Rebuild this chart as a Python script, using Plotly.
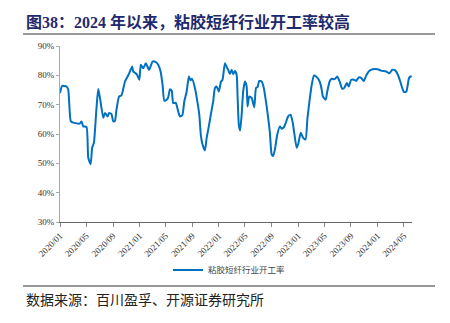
import plotly.graph_objects as go

dates = [
    "2020-01-01", "2020-01-11", "2020-01-31", "2020-02-08", "2020-02-20", "2020-03-06",
    "2020-04-02", "2020-04-09", "2020-04-17", "2020-05-02", "2020-05-10", "2020-05-21",
    "2020-05-28", "2020-06-05", "2020-06-17", "2020-06-25", "2020-07-03", "2020-07-18",
    "2020-07-26", "2020-08-07", "2020-08-14", "2020-08-25", "2020-09-02", "2020-09-10",
    "2020-09-17", "2020-09-29", "2020-10-10", "2020-10-26", "2020-11-13", "2020-11-28",
    "2020-12-03", "2020-12-19", "2020-12-31", "2021-01-07", "2021-01-18", "2021-01-30",
    "2021-02-14", "2021-03-02", "2021-03-17", "2021-03-28", "2021-04-08", "2021-04-17",
    "2021-04-25", "2021-05-06", "2021-05-13", "2021-05-21", "2021-05-29", "2021-06-05",
    "2021-06-17", "2021-06-28", "2021-07-06", "2021-07-17", "2021-07-26", "2021-08-06",
    "2021-08-16", "2021-08-24", "2021-08-31", "2021-09-13", "2021-09-21", "2021-10-03",
    "2021-10-10", "2021-10-18", "2021-10-29", "2021-11-06", "2021-11-16", "2021-11-25",
    "2021-12-06", "2021-12-14", "2021-12-22", "2022-01-01", "2022-01-11", "2022-01-18",
    "2022-01-29", "2022-02-08", "2022-02-12", "2022-02-21", "2022-03-01", "2022-03-08",
    "2022-03-16", "2022-03-24", "2022-03-28", "2022-04-03", "2022-04-09", "2022-04-16",
    "2022-04-23", "2022-05-01", "2022-05-09", "2022-05-13", "2022-05-21", "2022-06-01",
    "2022-06-13", "2022-06-21", "2022-06-28", "2022-07-06", "2022-07-17", "2022-07-27",
    "2022-08-08", "2022-08-16", "2022-08-24", "2022-09-01", "2022-09-08", "2022-09-16",
    "2022-09-27", "2022-10-09", "2022-10-17", "2022-10-27", "2022-11-05", "2022-11-16",
    "2022-11-27", "2022-12-06", "2022-12-14", "2022-12-25", "2023-01-01", "2023-01-13",
    "2023-01-24", "2023-02-04", "2023-02-13", "2023-02-24", "2023-03-06", "2023-03-15",
    "2023-03-29", "2023-04-10", "2023-04-18", "2023-04-25", "2023-05-08", "2023-05-15",
    "2023-05-26", "2023-06-03", "2023-06-18", "2023-06-30", "2023-07-11", "2023-07-23",
    "2023-08-03", "2023-08-13", "2023-08-22", "2023-09-02", "2023-09-14", "2023-09-25",
    "2023-10-07", "2023-10-18", "2023-10-30", "2023-11-10", "2023-11-25", "2023-12-10",
    "2024-01-02", "2024-01-18", "2024-02-10", "2024-02-25", "2024-03-09", "2024-03-23",
    "2024-04-04", "2024-04-15", "2024-04-24", "2024-05-02", "2024-05-13", "2024-05-25",
    "2024-06-01", "2024-06-07",
]
rates = [
    74.0, 76.4, 76.2, 75.1, 64.3, 63.8,
    63.6, 64.3, 62.6, 62.4, 51.9, 49.7,
    55.3, 57.0, 68.9, 75.3, 72.3, 65.5,
    67.2, 66.0, 67.2, 66.8, 64.3, 64.5,
    68.3, 72.8, 73.2, 77.9, 80.4, 83.0,
    81.3, 80.4, 78.5, 83.6, 82.4, 84.1,
    81.9, 84.7, 84.5, 83.6, 81.3, 76.8,
    71.4, 71.7, 72.5, 75.3, 74.8, 70.6,
    70.6, 67.7, 66.0, 66.4, 71.1, 74.5,
    79.6, 78.3, 78.8, 75.7, 72.5, 66.6,
    59.8, 56.4, 54.4, 58.7, 62.6, 66.6,
    71.1, 75.7, 76.2, 74.5, 77.9, 78.5,
    84.1, 82.5, 82.1, 80.5, 81.9, 80.4,
    81.5, 80.2, 73.4, 63.2, 61.2, 66.6,
    74.5, 77.9, 76.2, 69.4, 72.8, 72.3,
    69.1, 75.7, 76.0, 78.1, 77.9, 75.7,
    70.0, 65.5, 60.4, 53.1, 52.5, 54.7,
    59.8, 62.6, 61.8, 62.3, 63.8, 66.0,
    66.6, 64.3, 60.4, 55.3, 56.5, 60.4,
    58.7, 58.1, 65.5, 72.3, 77.4, 79.9,
    79.3, 77.9, 75.7, 72.8, 71.7, 74.5,
    77.9, 78.8, 78.7, 79.6, 77.9, 75.4,
    75.9, 77.4, 76.2, 78.5, 78.5, 78.1,
    79.3, 79.1, 78.1, 79.9, 81.6, 82.1,
    82.1, 81.6, 81.3, 80.7, 81.9, 81.7,
    80.2, 77.9, 75.7, 74.3, 74.5, 79.0,
    79.6, 79.6,
]
series_name = "粘胶短纤行业开工率"
title_text = "图38：2024 年以来，粘胶短纤行业开工率较高"
source_text = "数据来源：百川盈孚、开源证券研究所"
y_ticks = [30, 40, 50, 60, 70, 80, 90]

serif = "Liberation Serif, Times New Roman, serif"
mixed = "Liberation Serif, Noto Sans CJK SC"
cjk = "Noto Sans CJK SC"

fig = go.Figure()
fig.add_trace(go.Scatter(
    x=dates, y=rates, mode="lines", name=series_name,
    line=dict(color="#0070C0", width=2, shape="spline", smoothing=0.5),
))

W, H = 450, 323
L, R, T, B = 60, 38, 46, 101
pw, ph = W - L - R, H - T - B

def px(xp):
    return (xp - L) / pw

def py(yp):
    return (H - B - yp) / ph

fig.update_layout(
    width=W, height=H,
    margin=dict(l=L, r=R, t=T, b=B),
    paper_bgcolor="white", plot_bgcolor="white",
    showlegend=True,
    legend=dict(
        x=px(168), y=py(270), xanchor="left", yanchor="middle",
        orientation="h", font=dict(family=cjk, size=8.5, color="#444444"),
        bgcolor="rgba(0,0,0,0)", itemwidth=30,
    ),
    xaxis=dict(
        type="date",
        range=["2020-01-01", "2024-06-08"],
        tick0="2020-01-01", dtick="M4", tickformat="%Y/%m",
        tickangle=-45, ticks="outside", ticklen=4, tickcolor="#888888",
        tickfont=dict(family=serif, size=9, color="#333333"),
        showline=True, linecolor="#666666", linewidth=1,
        showgrid=False, zeroline=False,
    ),
    yaxis=dict(
        range=[30, 90], tickvals=y_ticks,
        ticktext=[f"{v}%" for v in y_ticks],
        ticks="outside", ticklen=3, tickcolor="#aaaaaa",
        tickfont=dict(family=serif, size=9, color="#333333"),
        showline=True, linecolor="#aaaaaa", linewidth=1,
        showgrid=False, zeroline=False,
    ),
)

fig.add_annotation(
    text=f"<b>{title_text}</b>", xref="paper", yref="paper",
    x=px(24), y=py(22), xanchor="left", yanchor="middle", showarrow=False,
    font=dict(family=mixed, size=16, color="#1F2A6E"),
)
fig.add_shape(type="line", xref="paper", yref="paper",
              x0=px(23), x1=px(435), y0=py(34), y1=py(34),
              line=dict(color="#777777", width=1.5))
fig.add_shape(type="line", xref="paper", yref="paper",
              x0=px(23), x1=px(435), y0=py(286), y1=py(286),
              line=dict(color="#333333", width=1.2))
fig.add_annotation(
    text=source_text, xref="paper", yref="paper",
    x=px(24), y=py(299), xanchor="left", yanchor="middle", showarrow=False,
    font=dict(family=cjk, size=14, color="#222222"),
)

fig.write_html("out.html")
